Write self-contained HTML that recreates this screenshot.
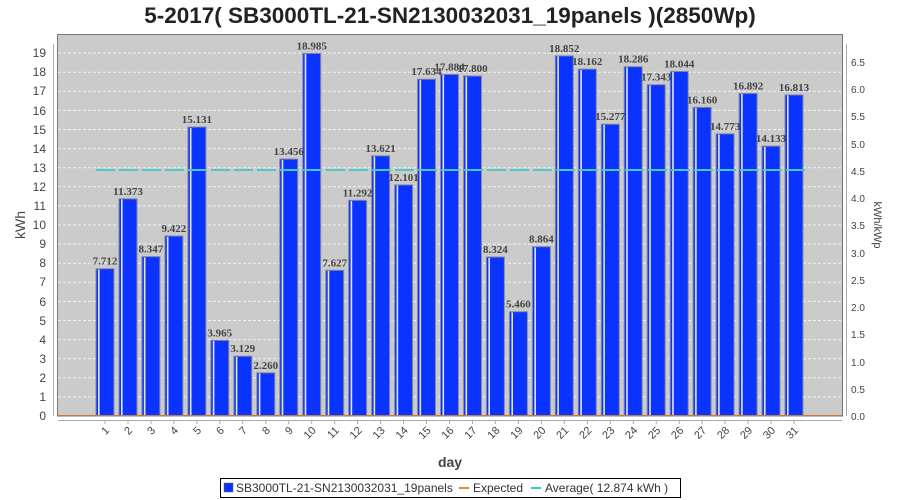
<!DOCTYPE html>
<html><head><meta charset="utf-8"><style>
body{margin:0;background:#fff;}
svg{display:block;font-family:"Liberation Sans",sans-serif;}
.yl{font-size:12px;fill:#444;text-anchor:end;}
.yr{font-size:10px;fill:#444;text-anchor:start;}
.xl{font-size:11px;fill:#444;text-anchor:end;}
.v{font-family:"Liberation Serif",serif;font-weight:bold;font-size:11px;fill:#444;text-anchor:middle;}
.b{fill:#0a33ff;stroke:#8a8a9a;stroke-width:1;}
</style></head><body>
<svg width="900" height="500" viewBox="0 0 900 500">
<text x="450" y="23" text-anchor="middle" font-size="22.5" font-weight="bold" fill="#222">5-2017( SB3000TL-21-SN2130032031_19panels )(2850Wp)</text>
<rect x="57.5" y="34.5" width="785" height="381.5" fill="#cbcbcb" stroke="#777"/>
<g stroke="#f2f2f2" stroke-dasharray="3,2" stroke-width="1">
<line x1="58" x2="842" y1="396.9" y2="396.9"/><line x1="58" x2="842" y1="377.8" y2="377.8"/><line x1="58" x2="842" y1="358.7" y2="358.7"/><line x1="58" x2="842" y1="339.6" y2="339.6"/><line x1="58" x2="842" y1="320.5" y2="320.5"/><line x1="58" x2="842" y1="301.4" y2="301.4"/><line x1="58" x2="842" y1="282.3" y2="282.3"/><line x1="58" x2="842" y1="263.2" y2="263.2"/><line x1="58" x2="842" y1="244.1" y2="244.1"/><line x1="58" x2="842" y1="225" y2="225"/><line x1="58" x2="842" y1="205.9" y2="205.9"/><line x1="58" x2="842" y1="186.8" y2="186.8"/><line x1="58" x2="842" y1="167.7" y2="167.7"/><line x1="58" x2="842" y1="148.6" y2="148.6"/><line x1="58" x2="842" y1="129.5" y2="129.5"/><line x1="58" x2="842" y1="110.4" y2="110.4"/><line x1="58" x2="842" y1="91.3" y2="91.3"/><line x1="58" x2="842" y1="72.2" y2="72.2"/><line x1="58" x2="842" y1="53.1" y2="53.1"/>
</g>
<line x1="53.5" y1="44" x2="53.5" y2="416" stroke="#aaa"/>
<g class="yl">
<text x="46" y="420">0</text><text x="46" y="401">1</text><text x="46" y="382">2</text><text x="46" y="363">3</text><text x="46" y="344">4</text><text x="46" y="325">5</text><text x="46" y="306">6</text><text x="46" y="286">7</text><text x="46" y="267">8</text><text x="46" y="248">9</text><text x="46" y="229">10</text><text x="46" y="210">11</text><text x="46" y="191">12</text><text x="46" y="172">13</text><text x="46" y="153">14</text><text x="46" y="134">15</text><text x="46" y="115">16</text><text x="46" y="95">17</text><text x="46" y="76">18</text><text x="46" y="57">19</text>
</g>
<line x1="846.5" y1="44" x2="846.5" y2="416" stroke="#aaa"/>
<g class="yr">
<text x="851" y="420">0.0</text><text x="851" y="393">0.5</text><text x="851" y="366">1.0</text><text x="851" y="338">1.5</text><text x="851" y="311">2.0</text><text x="851" y="284">2.5</text><text x="851" y="257">3.0</text><text x="851" y="229">3.5</text><text x="851" y="202">4.0</text><text x="851" y="175">4.5</text><text x="851" y="148">5.0</text><text x="851" y="120">5.5</text><text x="851" y="93">6.0</text><text x="851" y="66">6.5</text>
</g>
<text transform="translate(25,225) rotate(-90)" text-anchor="middle" font-size="14" fill="#444">kWh</text>
<text transform="translate(874,225) rotate(90)" text-anchor="middle" font-size="11" fill="#444">kWh/kWp</text>
<g>
<rect class="b" x="96" y="268.7" width="18" height="147.3"/><rect class="b" x="119" y="198.8" width="18" height="217.2"/><rect class="b" x="141.9" y="256.6" width="18" height="159.4"/><rect class="b" x="164.9" y="236" width="18" height="180"/><rect class="b" x="187.9" y="127" width="18" height="289"/><rect class="b" x="210.8" y="340.3" width="18" height="75.7"/><rect class="b" x="233.8" y="356.2" width="18" height="59.8"/><rect class="b" x="256.8" y="372.8" width="18" height="43.2"/><rect class="b" x="279.7" y="159" width="18" height="257"/><rect class="b" x="302.7" y="53.4" width="18" height="362.6"/><rect class="b" x="325.7" y="270.3" width="18" height="145.7"/><rect class="b" x="348.6" y="200.3" width="18" height="215.7"/><rect class="b" x="371.6" y="155.8" width="18" height="260.2"/><rect class="b" x="394.6" y="184.9" width="18" height="231.1"/><rect class="b" x="417.5" y="79.2" width="18" height="336.8"/><rect class="b" x="440.5" y="74.4" width="18" height="341.6"/><rect class="b" x="463.5" y="76" width="18" height="340"/><rect class="b" x="486.4" y="257" width="18" height="159"/><rect class="b" x="509.4" y="311.7" width="18" height="104.3"/><rect class="b" x="532.4" y="246.7" width="18" height="169.3"/><rect class="b" x="555.3" y="55.9" width="18" height="360.1"/><rect class="b" x="578.3" y="69.1" width="18" height="346.9"/><rect class="b" x="601.3" y="124.2" width="18" height="291.8"/><rect class="b" x="624.2" y="66.7" width="18" height="349.3"/><rect class="b" x="647.2" y="84.7" width="18" height="331.3"/><rect class="b" x="670.2" y="71.4" width="18" height="344.6"/><rect class="b" x="693.1" y="107.3" width="18" height="308.7"/><rect class="b" x="716.1" y="133.8" width="18" height="282.2"/><rect class="b" x="739.1" y="93.4" width="18" height="322.6"/><rect class="b" x="762" y="146.1" width="18" height="269.9"/><rect class="b" x="785" y="94.9" width="18" height="321.1"/>
</g>
<g fill="#dfe6ff">
<rect x="98" y="269.5" width="1.6" height="146"/><rect x="121" y="199.5" width="1.6" height="216"/><rect x="143.9" y="257.5" width="1.6" height="158"/><rect x="166.9" y="237" width="1.6" height="179"/><rect x="189.9" y="128" width="1.6" height="288"/><rect x="212.8" y="341" width="1.6" height="75"/><rect x="235.8" y="357" width="1.6" height="59"/><rect x="258.8" y="373.5" width="1.6" height="42"/><rect x="281.7" y="160" width="1.6" height="256"/><rect x="304.7" y="54" width="1.6" height="362"/><rect x="327.7" y="271" width="1.6" height="145"/><rect x="350.6" y="201" width="1.6" height="215"/><rect x="373.6" y="156.5" width="1.6" height="259"/><rect x="396.6" y="185.5" width="1.6" height="230"/><rect x="419.5" y="80" width="1.6" height="336"/><rect x="442.5" y="75" width="1.6" height="341"/><rect x="465.5" y="77" width="1.6" height="339"/><rect x="488.4" y="258" width="1.6" height="158"/><rect x="511.4" y="312.5" width="1.6" height="103"/><rect x="534.4" y="247.5" width="1.6" height="168"/><rect x="557.3" y="56.5" width="1.6" height="359"/><rect x="580.3" y="70" width="1.6" height="346"/><rect x="603.3" y="125" width="1.6" height="291"/><rect x="626.2" y="67.5" width="1.6" height="348"/><rect x="649.2" y="85.5" width="1.6" height="330"/><rect x="672.2" y="72" width="1.6" height="344"/><rect x="695.1" y="108" width="1.6" height="308"/><rect x="718.1" y="134.5" width="1.6" height="281"/><rect x="741.1" y="94" width="1.6" height="322"/><rect x="764" y="147" width="1.6" height="269"/><rect x="787" y="95.5" width="1.6" height="320"/>
</g>
<line x1="58" y1="415.5" x2="842" y2="415.5" stroke="#c87a3c" stroke-width="1"/>
<line x1="96" y1="170" x2="805" y2="170" stroke="#4cc8c8" stroke-width="2" stroke-dasharray="19,4"/>
<g class="v">
<text x="105" y="264.7">7.712</text><text x="128" y="194.8">11.373</text><text x="150.9" y="252.6">8.347</text><text x="173.9" y="232">9.422</text><text x="196.9" y="123">15.131</text><text x="219.8" y="336.3">3.965</text><text x="242.8" y="352.2">3.129</text><text x="265.8" y="368.8">2.260</text><text x="288.7" y="155">13.456</text><text x="311.7" y="49.4">18.985</text><text x="334.7" y="266.3">7.627</text><text x="357.6" y="196.3">11.292</text><text x="380.6" y="151.8">13.621</text><text x="403.6" y="180.9">12.101</text><text x="426.5" y="75.2">17.634</text><text x="449.5" y="70.4">17.884</text><text x="472.5" y="72">17.800</text><text x="495.4" y="253">8.324</text><text x="518.4" y="307.7">5.460</text><text x="541.4" y="242.7">8.864</text><text x="564.3" y="51.9">18.852</text><text x="587.3" y="65.1">18.162</text><text x="610.3" y="120.2">15.277</text><text x="633.2" y="62.7">18.286</text><text x="656.2" y="80.7">17.343</text><text x="679.2" y="67.4">18.044</text><text x="702.1" y="103.3">16.160</text><text x="725.1" y="129.8">14.773</text><text x="748.1" y="89.4">16.892</text><text x="771" y="142.1">14.133</text><text x="794" y="90.9">16.813</text>
</g>
<line x1="58" y1="420.5" x2="842" y2="420.5" stroke="#aaa"/>
<g stroke="#aaa">
<line x1="105" x2="105" y1="420" y2="424"/><line x1="128" x2="128" y1="420" y2="424"/><line x1="150.9" x2="150.9" y1="420" y2="424"/><line x1="173.9" x2="173.9" y1="420" y2="424"/><line x1="196.9" x2="196.9" y1="420" y2="424"/><line x1="219.8" x2="219.8" y1="420" y2="424"/><line x1="242.8" x2="242.8" y1="420" y2="424"/><line x1="265.8" x2="265.8" y1="420" y2="424"/><line x1="288.7" x2="288.7" y1="420" y2="424"/><line x1="311.7" x2="311.7" y1="420" y2="424"/><line x1="334.7" x2="334.7" y1="420" y2="424"/><line x1="357.6" x2="357.6" y1="420" y2="424"/><line x1="380.6" x2="380.6" y1="420" y2="424"/><line x1="403.6" x2="403.6" y1="420" y2="424"/><line x1="426.5" x2="426.5" y1="420" y2="424"/><line x1="449.5" x2="449.5" y1="420" y2="424"/><line x1="472.5" x2="472.5" y1="420" y2="424"/><line x1="495.4" x2="495.4" y1="420" y2="424"/><line x1="518.4" x2="518.4" y1="420" y2="424"/><line x1="541.4" x2="541.4" y1="420" y2="424"/><line x1="564.3" x2="564.3" y1="420" y2="424"/><line x1="587.3" x2="587.3" y1="420" y2="424"/><line x1="610.3" x2="610.3" y1="420" y2="424"/><line x1="633.2" x2="633.2" y1="420" y2="424"/><line x1="656.2" x2="656.2" y1="420" y2="424"/><line x1="679.2" x2="679.2" y1="420" y2="424"/><line x1="702.1" x2="702.1" y1="420" y2="424"/><line x1="725.1" x2="725.1" y1="420" y2="424"/><line x1="748.1" x2="748.1" y1="420" y2="424"/><line x1="771" x2="771" y1="420" y2="424"/><line x1="794" x2="794" y1="420" y2="424"/>
</g>
<g class="xl">
<text transform="translate(110,431) rotate(-45)">1</text><text transform="translate(133,431) rotate(-45)">2</text><text transform="translate(155.9,431) rotate(-45)">3</text><text transform="translate(178.9,431) rotate(-45)">4</text><text transform="translate(201.9,431) rotate(-45)">5</text><text transform="translate(224.8,431) rotate(-45)">6</text><text transform="translate(247.8,431) rotate(-45)">7</text><text transform="translate(270.8,431) rotate(-45)">8</text><text transform="translate(293.7,431) rotate(-45)">9</text><text transform="translate(316.7,431) rotate(-45)">10</text><text transform="translate(339.7,431) rotate(-45)">11</text><text transform="translate(362.6,431) rotate(-45)">12</text><text transform="translate(385.6,431) rotate(-45)">13</text><text transform="translate(408.6,431) rotate(-45)">14</text><text transform="translate(431.5,431) rotate(-45)">15</text><text transform="translate(454.5,431) rotate(-45)">16</text><text transform="translate(477.5,431) rotate(-45)">17</text><text transform="translate(500.4,431) rotate(-45)">18</text><text transform="translate(523.4,431) rotate(-45)">19</text><text transform="translate(546.4,431) rotate(-45)">20</text><text transform="translate(569.3,431) rotate(-45)">21</text><text transform="translate(592.3,431) rotate(-45)">22</text><text transform="translate(615.3,431) rotate(-45)">23</text><text transform="translate(638.2,431) rotate(-45)">24</text><text transform="translate(661.2,431) rotate(-45)">25</text><text transform="translate(684.2,431) rotate(-45)">26</text><text transform="translate(707.1,431) rotate(-45)">27</text><text transform="translate(730.1,431) rotate(-45)">28</text><text transform="translate(753.1,431) rotate(-45)">29</text><text transform="translate(776,431) rotate(-45)">30</text><text transform="translate(799,431) rotate(-45)">31</text>
</g>
<text x="450" y="467" text-anchor="middle" font-size="14" font-weight="bold" fill="#444">day</text>
<rect x="220.5" y="478.5" width="460" height="19" fill="#fff" stroke="#000"/>
<rect x="224" y="483" width="9" height="9" fill="#0a33ff" stroke="#666" stroke-width="0.5"/>
<text x="236" y="492" font-size="12" fill="#333">SB3000TL-21-SN2130032031_19panels</text>
<line x1="459" y1="488" x2="469" y2="488" stroke="#f08020" stroke-width="2"/>
<text x="473" y="492" font-size="12" fill="#333">Expected</text>
<line x1="531" y1="488" x2="541" y2="488" stroke="#30c8c8" stroke-width="2"/>
<text x="545" y="492" font-size="12" fill="#333">Average( 12.874 kWh )</text>
</svg>
</body></html>
